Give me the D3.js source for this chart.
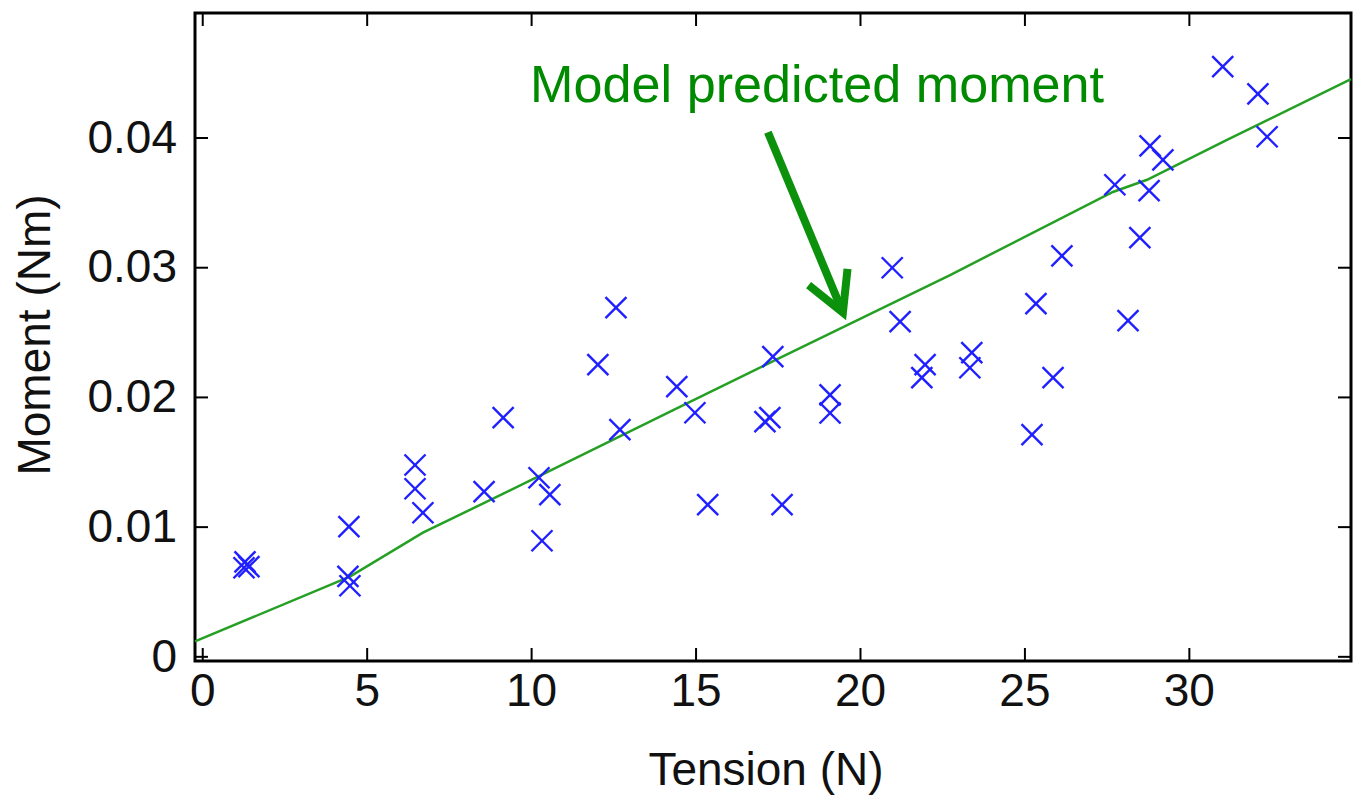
<!DOCTYPE html>
<html>
<head>
  <meta charset="utf-8">
  <title>Moment vs tension</title>
  <script src="https://d3js.org/d3.v7.min.js"></script>
  <style>
    body { margin: 0; background: #fff; }
    svg text { font-family: "Liberation Sans", Arial, sans-serif; }
    .tick line { stroke: #000; stroke-width: 2px; }
    .tick text { font-size: 46px; fill: #111; }
    .frame { fill: none; stroke: #000; stroke-width: 3px; }
    .model { fill: none; stroke: #25a025; stroke-width: 2.5px; }
    .pt { stroke: #1f1fff; stroke-width: 2.4px; }
    .note { fill: #008a00; font-size: 52px; }
    .arrow { stroke: #0c910c; stroke-width: 8px; fill: none; stroke-linecap: butt; }
    .label { font-size: 46px; fill: #111; }
  </style>
</head>
<body>
<svg id="plot" width="1361" height="802"></svg>
<script>

const tensionN = [1.30, 1.42, 1.27, 4.46, 4.43, 4.49, 6.47, 6.47, 6.71, 8.57,
                  9.15, 10.24, 10.57, 10.33, 12.03, 12.58, 12.70, 14.43, 14.98, 15.37,
                  17.11, 17.26, 17.35, 17.63, 19.09, 19.09, 20.98, 21.22, 21.98, 21.88,
                  23.40, 23.34, 25.23, 25.35, 25.87, 26.14, 27.75, 28.15, 28.51, 28.82,
                  28.79, 29.21, 31.03, 32.10, 32.38];
const momentNm = [0.00729, 0.00691, 0.00683, 0.0100, 0.00616, 0.00544, 0.01475, 0.01292, 0.01107, 0.01270,
                  0.01840, 0.01377, 0.01246, 0.00891, 0.02249, 0.02688, 0.01748, 0.02079, 0.01878, 0.01169,
                  0.01809, 0.01840, 0.02310, 0.01169, 0.02016, 0.01876, 0.02996, 0.02580, 0.02249, 0.02149,
                  0.02341, 0.02225, 0.01709, 0.02719, 0.02149, 0.03088, 0.03636, 0.02588, 0.03228, 0.03936,
                  0.03590, 0.03828, 0.04546, 0.04337, 0.04006];

// model prediction, drawn as a polyline
const modelTension = [-0.22, 4.49, 6.71, 10.21, 14.83, 17.47, 22.74, 27.69, 28.73, 31.16, 34.93];
const modelMoment  = [0.00115, 0.00614, 0.00953, 0.01385, 0.01962, 0.02290, 0.02940, 0.03580, 0.03674, 0.03982, 0.04450];

// axis ticks
const xTicks = [0, 5, 10, 15, 20, 25, 30];
const yTicks = [0, 0.01, 0.02, 0.03, 0.04];
const yTickLabels = ["0", "0.01", "0.02", "0.03", "0.04"];

const svg = d3.select("svg#plot");

// plot box in pixels
const box = { left: 195, right: 1351, top: 13, bottom: 661 };

const x = d3.scaleLinear().domain([-0.22, 34.93]).range([box.left, box.right]);
const y = d3.scaleLinear().domain([-0.00036, 0.0496]).range([box.bottom, box.top]);

// ---- axes, ticks point inward like matlab ----
svg.append("g").attr("transform", `translate(0,${box.bottom})`)
   .call(d3.axisBottom(x).tickValues(xTicks).tickSizeInner(-13).tickSizeOuter(0).tickPadding(12))
   .call(g => g.select(".domain").remove());

svg.append("g").attr("transform", `translate(0,${box.top})`)
   .call(d3.axisTop(x).tickValues(xTicks).tickSizeInner(-13).tickSizeOuter(0).tickFormat(""))
   .call(g => g.select(".domain").remove());

svg.append("g").attr("transform", `translate(${box.left},0)`)
   .call(d3.axisLeft(y).tickValues(yTicks).tickSizeInner(-13).tickSizeOuter(0).tickPadding(18)
           .tickFormat((d, i) => yTickLabels[i]))
   .call(g => g.select(".domain").remove());

svg.append("g").attr("transform", `translate(${box.right},0)`)
   .call(d3.axisRight(y).tickValues(yTicks).tickSizeInner(-13).tickSizeOuter(0).tickFormat(""))
   .call(g => g.select(".domain").remove());

svg.append("rect").attr("class", "frame")
   .attr("x", box.left).attr("y", box.top)
   .attr("width", box.right - box.left).attr("height", box.bottom - box.top);

// axis titles
svg.append("text").attr("class", "label")
   .attr("x", (box.left + box.right) / 2 - 7).attr("y", 785)
   .attr("text-anchor", "middle").text("Tension (N)");

svg.append("text").attr("class", "label")
   .attr("transform", "translate(50,335) rotate(-90)")
   .attr("text-anchor", "middle").text("Moment (Nm)");

// ---- model line ----
const modelPts = modelTension.map((t, i) => [t, modelMoment[i]]);
const line = d3.line().x(d => x(d[0])).y(d => y(d[1]));
svg.append("path").attr("class", "model").attr("d", line(modelPts));

// ---- measured points as 'x' markers ----
const pts = tensionN.map((t, i) => ({ t: t, m: momentNm[i] }));
const r = 10.5;
const marks = svg.append("g").selectAll("g.mk").data(pts).join("g")
   .attr("class", "mk")
   .attr("transform", d => `translate(${x(d.t)},${y(d.m)})`);
marks.append("line").attr("class", "pt").attr("x1", -r).attr("y1", -r).attr("x2", r).attr("y2", r);
marks.append("line").attr("class", "pt").attr("x1", -r).attr("y1", r).attr("x2", r).attr("y2", -r);

// ---- annotation ----
svg.append("text").attr("class", "note")
   .attr("x", x(9.97)).attr("y", y(0.0427))
   .attr("textLength", 574).attr("lengthAdjust", "spacingAndGlyphs")
   .text("Model predicted moment");

const tail = [x(17.2), y(0.0404)];
const tip = [x(19.48), y(0.0265)];
const ang = Math.atan2(tip[1] - tail[1], tip[0] - tail[0]);
const headLen = 44, spread = 0.5;
const arm1 = [tip[0] - headLen * Math.cos(ang - spread), tip[1] - headLen * Math.sin(ang - spread)];
const arm2 = [tip[0] - headLen * Math.cos(ang + spread), tip[1] - headLen * Math.sin(ang + spread)];

svg.append("path").attr("class", "arrow")
   .attr("d", `M${tail[0]},${tail[1]} L${tip[0]},${tip[1]}`);
svg.append("path").attr("class", "arrow").style("stroke-linejoin", "miter")
   .attr("d", `M${arm1[0]},${arm1[1]} L${tip[0]},${tip[1]} L${arm2[0]},${arm2[1]}`);

</script>
</body>
</html>
